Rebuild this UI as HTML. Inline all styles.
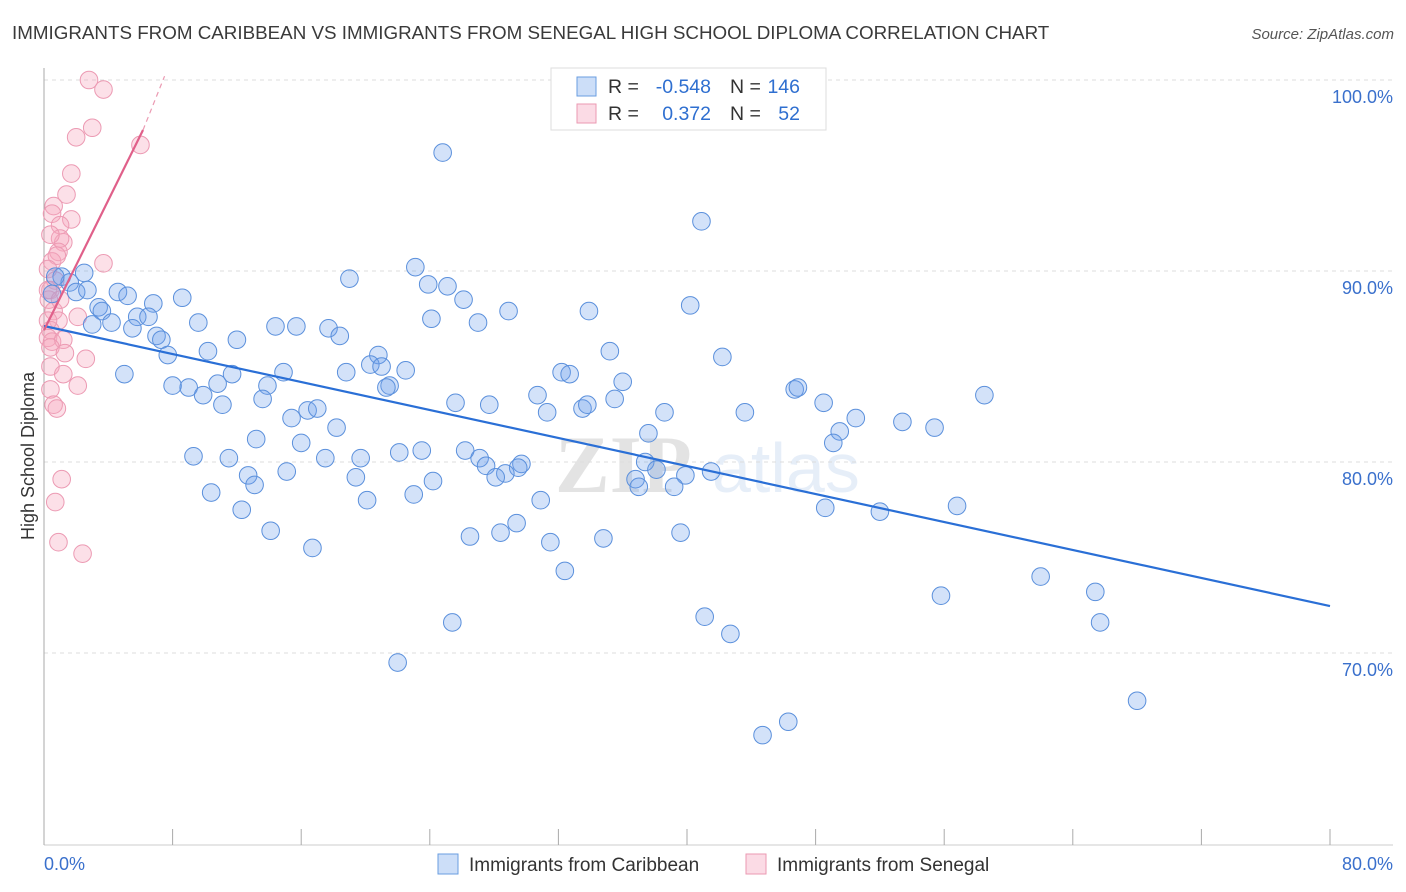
<!DOCTYPE html>
<html><head><meta charset="utf-8">
<style>
body{margin:0;background:#fff;font-family:"Liberation Sans",sans-serif;}
svg{display:block}
</style></head>
<body>
<svg id="chart" width="1406" height="892" xmlns="http://www.w3.org/2000/svg" font-family="Liberation Sans, sans-serif">
<text x="12" y="39" font-size="18.8" fill="#3a3a3a">IMMIGRANTS FROM CARIBBEAN VS IMMIGRANTS FROM SENEGAL HIGH SCHOOL DIPLOMA CORRELATION CHART</text>
<text x="1394" y="39" font-size="15" fill="#555" text-anchor="end" font-style="italic">Source: ZipAtlas.com</text>
<g opacity="0.13"><text x="555" y="492" font-size="82" font-family="Liberation Serif, serif" fill="#333" font-weight="bold">ZIP</text><text x="712" y="492" font-size="70" fill="#4a7fd0">atlas</text></g>
<g id="grid"></g>
<g id="axes"></g>
<text transform="translate(34,456) rotate(-90)" font-size="18" fill="#333" text-anchor="middle">High School Diploma</text>
<g id="pts"></g>
<g id="lines"></g>
<g>
<rect x="551" y="68" width="275" height="62" fill="#fff" stroke="#ddd"/>
<rect x="577" y="77" width="19" height="19" fill="rgba(110,160,235,0.35)" stroke="#6a9ee0"/>
<rect x="577" y="104" width="19" height="19" fill="rgba(245,165,190,0.4)" stroke="#eb9ab2"/>
<text x="608" y="93" font-size="19.5" fill="#333">R =</text>
<text x="711" y="93" font-size="19.5" fill="#2f6fd0" text-anchor="end">-0.548</text>
<text x="730" y="93" font-size="19.5" fill="#333">N =</text>
<text x="800" y="93" font-size="19.5" fill="#2f6fd0" text-anchor="end">146</text>
<text x="608" y="120" font-size="19.5" fill="#333">R =</text>
<text x="711" y="120" font-size="19.5" fill="#2f6fd0" text-anchor="end">0.372</text>
<text x="730" y="120" font-size="19.5" fill="#333">N =</text>
<text x="800" y="120" font-size="19.5" fill="#2f6fd0" text-anchor="end">52</text>
</g>
<g>
<rect x="438" y="854" width="20" height="20" fill="rgba(110,160,235,0.35)" stroke="#6a9ee0"/>
<text x="469" y="871" font-size="19" fill="#333">Immigrants from Caribbean</text>
<rect x="746" y="854" width="20" height="20" fill="rgba(245,165,190,0.4)" stroke="#eb9ab2"/>
<text x="777" y="871" font-size="19" fill="#333">Immigrants from Senegal</text>
</g>
</svg>
<script>
const blueX=[24.8,40.9,2.5,1.1,1.6,0.7,0.5,2.0,2.7,4.6,5.2,19.0,23.1,23.9,25.1,26.1,8.6,6.8,3.4,3.6,5.8,6.5,4.2,3.0,5.5,9.6,7.0,7.3,7.7,12.0,14.4,15.7,17.7,18.4,28.9,33.9,40.2,24.1,27.0,10.2,5.0,11.7,8.0,9.0,10.8,9.9,11.1,13.9,13.6,14.9,18.8,20.8,20.3,21.0,21.5,21.3,22.5,35.2,42.2,32.2,32.7,36.0,46.7,46.9,58.5,25.6,27.7,30.7,31.3,33.5,33.8,35.5,38.6,43.6,48.5,50.5,53.4,55.4,15.4,16.4,17.0,18.2,37.6,49.5,49.1,13.2,16.0,9.3,11.5,17.5,19.7,22.1,23.5,26.2,27.1,27.5,29.7,29.5,28.7,28.1,24.2,19.4,12.7,13.1,15.1,37.4,38.1,39.9,41.5,36.8,37.0,39.2,10.4,20.1,23.0,30.9,12.3,14.1,16.7,26.5,28.4,29.4,31.5,34.8,39.6,48.6,52.0,56.8,32.4,62.0,55.8,65.4,65.7,25.4,41.1,42.7,22.0,68.0,46.3,44.7];
const blueY=[96.2,92.6,89.9,89.7,89.4,89.7,88.8,88.9,89.0,88.9,88.7,89.6,90.2,89.3,89.2,88.5,88.6,88.3,88.1,87.9,87.6,87.6,87.3,87.2,87.0,87.3,86.6,86.4,85.6,86.4,87.1,87.1,87.0,86.6,87.9,87.9,88.2,87.5,87.3,85.8,84.6,84.6,84.0,83.9,84.1,83.5,83.0,84.0,83.3,84.7,84.7,85.6,85.1,85.0,84.0,83.9,84.8,85.8,85.5,84.7,84.6,84.2,83.8,83.9,83.5,83.1,83.0,83.5,82.6,82.8,83.0,83.3,82.6,82.6,83.1,82.3,82.1,81.8,82.3,82.7,82.8,81.8,81.5,81.6,81.0,81.2,81.0,80.3,80.2,80.2,80.2,80.5,80.6,80.6,80.2,79.8,79.9,79.7,79.4,79.2,79.0,79.2,79.3,78.8,79.5,80.0,79.6,79.3,79.5,79.1,78.7,78.7,78.4,78.0,78.3,78.0,77.5,76.4,75.5,76.1,76.3,76.8,75.8,76.0,76.3,77.6,77.4,77.7,74.3,74.0,73.0,73.2,71.6,71.6,71.9,71.0,69.5,67.5,66.4,65.7];
const pinkX=[2.8,3.7,3.0,2.0,6.0,1.7,1.4,0.6,1.7,0.5,1.0,1.2,1.0,0.4,0.9,0.5,0.8,3.7,0.25,0.7,0.4,0.3,0.6,0.9,2.1,0.4,0.25,0.5,1.2,0.4,1.3,2.6,0.4,1.2,2.1,0.4,0.6,0.8,1.1,0.7,0.9,2.4,0.25,1.0,0.25];
const pinkY=[100.0,99.5,97.5,97.0,96.6,95.1,94.0,93.4,92.7,93.0,92.4,91.5,91.7,91.9,91.0,90.5,90.8,90.4,90.1,89.5,89.0,88.5,87.9,87.4,87.6,86.9,86.5,86.3,86.4,86.0,85.7,85.4,85.0,84.6,84.0,83.8,83.0,82.8,79.1,77.9,75.8,75.2,89.0,88.5,87.4];
const blueLine=[[0,87.12],[80,72.46]];
const pinkLine=[[0,86.9],[6.16,97.38]];
const pinkDash=[[6.16,97.38],[7.5,100.2]];
const yTicks=[100,90,80,70];
const xTicks=[0,8,16,24,32,40,48,56,64,72,80];
const NS="http://www.w3.org/2000/svg";
const sx=v=>44+v*16.075, sy=v=>80+(100-v)*19.1;
function mk(parent,tag,attrs){const e=document.createElementNS(NS,tag);for(const k in attrs)e.setAttribute(k,attrs[k]);parent.appendChild(e);return e;}
const grid=document.getElementById('grid'),axes=document.getElementById('axes'),pts=document.getElementById('pts'),lines=document.getElementById('lines');
yTicks.forEach(t=>{
 const l=mk(grid,'line',{x1:44,x2:1393,y1:sy(t),y2:sy(t),stroke:'#dcdcdc','stroke-dasharray':'4,4'});
 
 
 const tx=mk(axes,'text',{x:1393,y:sy(t)+23,'font-size':18,fill:'#3a70cc','text-anchor':'end'});
 tx.textContent=t.toFixed(1)+'%';
 
 
});
const ya=mk(axes,'line',{x1:44,x2:44,y1:68,y2:845,stroke:'#aaa'});


const xa=mk(axes,'line',{x1:44,x2:1393,y1:845,y2:845,stroke:'#ccc'});


xTicks.forEach(t=>{
 const l=mk(axes,'line',{x1:sx(t),x2:sx(t),y1:829,y2:845,stroke:'#aaa'});
 
 
});
[[0,'start'],[80,'end']].forEach(([t,a])=>{
 const tx=mk(axes,'text',{x:t===0?44:1393,y:870,'font-size':18,fill:'#3a70cc','text-anchor':a});
 tx.textContent=t.toFixed(1)+'%';
 
 
});
pinkX.forEach((x,i)=>{
 const c=mk(pts,'circle',{cx:sx(x),cy:sy(pinkY[i]),r:8.8,fill:'rgba(245,165,190,0.35)',stroke:'#ec9ab3','stroke-width':1});
 
 
});
blueX.forEach((x,i)=>{
 const c=mk(pts,'circle',{cx:sx(x),cy:sy(blueY[i]),r:8.8,fill:'rgba(110,160,235,0.3)',stroke:'#5b90dc','stroke-width':1});
 
 
});
const bl=mk(lines,'line',{x1:sx(blueLine[0][0]),y1:sy(blueLine[0][1]),x2:sx(blueLine[1][0]),y2:sy(blueLine[1][1]),stroke:'#2a6fd6','stroke-width':2.2});


const pl=mk(lines,'line',{x1:sx(pinkLine[0][0]),y1:sy(pinkLine[0][1]),x2:sx(pinkLine[1][0]),y2:sy(pinkLine[1][1]),stroke:'#e0608a','stroke-width':2.2});


const pd=mk(lines,'line',{x1:sx(pinkDash[0][0]),y1:sy(pinkDash[0][1]),x2:sx(pinkDash[1][0]),y2:sy(pinkDash[1][1]),stroke:'#eb9ab2','stroke-width':1.2,'stroke-dasharray':'5,4'});


</script>
</body></html>
